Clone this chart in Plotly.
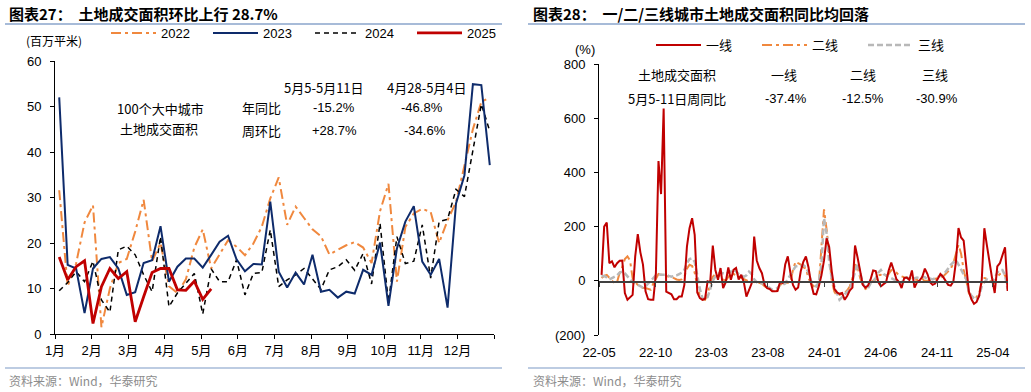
import plotly.graph_objects as go
import pandas as pd

W, H = 1031, 392

# ---------------- Left chart data: weekly land transaction area (百万平米) ----------------
MONTH_LABELS = ["1月", "2月", "3月", "4月", "5月", "6月", "7月", "8月", "9月", "10月", "11月", "12月", ""]
WEEKS = list(range(1, 53))
Y2022 = [31.6, 10.5, 15.5, 24.5, 28.3, 1.5, 10, 15.6, 16.5, 22.5,
         29.5, 16, 20, 10.5, 9, 12, 19, 23, 14.4, 17.5,
         20.6, 19.2, 17.3, 19.9, 23.6, 29.8, 34.4, 24, 28, 25.5,
         23, 21.5, 17.5, 18.5, 19.5, 20.2, 19, 15.6, 27, 33,
         11.5, 23.5, 26.5, 27.5, 26.8, 20, 25, 29, 37, 45,
         51, 52]
Y2023 = [52, 15.2, 14.4, 4.6, 14.4, 16.5, 16.9, 14.4, 8.6, 9.2,
         15.6, 16.2, 23.7, 11.5, 14.8, 16.6, 16.6, 14.6, 17.4, 20.3,
         21.6, 16.4, 13.8, 15.4, 15.3, 29.1, 13.7, 10.2, 13.5, 10.9,
         17.4, 9.3, 9.7, 8.0, 9.3, 8.9, 14.1, 13.0, 20.1, 6.2,
         18.8, 24.7, 28.1, 15.9, 13.0, 16.5, 5.8, 28.7, 34.9, 54.9,
         54.7, 37.1]
Y2024 = [9.5, 11.3, 13.7, 11.5, 16, 7.5, 4.8, 18.5, 19.3, 17.4,
         13, 9.3, 21.4, 6, 9, 11.1, 13.3, 4.4, 14.3, 11.5,
         11.5, 16.3, 8.6, 13.3, 13.5, 22.9, 10.4, 11.9, 13, 14.4,
         12, 9.8, 14.1, 14.8, 16.3, 14, 17.7, 11, 24.3, 7,
         21.4, 15.5, 16, 24, 12.3, 24.7, 25.2, 31.8, 30.2, 40,
         50.5, 44.6]
Y2025 = [16.9, 11.9, 14.8, 16.1, 2.3, 10.4, 14.4, 12.2, 13.7, 2.7,
         8.2, 13.5, 14.4, 14.4, 9.7, 9.6, 11.6, 7.6, 9.9]

# ---------------- Right chart data: weekly YoY by city tier (%) ----------------
DATES = pd.date_range(end="2025-05-11", periods=158, freq="7D")
TIER1 = [22, 200, 215, 65, 72, 50, 65, 74, 75, -45,
         -70, -61, -52, 90, 172, 105, 60, -39, -68, -70,
         -70, 28, 442, 320, 636, -40, -45, -50, -68, -68,
         -58, -58, -15, 126, 194, 231, 170, -43, -64, -70,
         -66, -2, -5, 130, 40, 4, 47, -27, -5, 49,
         4, 40, 47, 5, 22, -5, -58, -33, -10, 163,
         75, 47, 28, -15, -27, -30, -39, -39, -38, -5,
         -8, 60, 90, 30, -15, -33, -25, 35, 70, 90,
         50, -10, -48, -50, -20, 20, 75, 157, 125, 35,
         -30, -43, -48, -45, -70, -55, -35, -25, 130, 85,
         30, -15, -25, -18, 5, 38, 36, -5, -20, -12,
         -5, 38, 67, 38, 6, -5, -27, 10, 12, 3,
         38, -25, -5, 2, 15, 45, 25, -5, -15, -10,
         5, 25, 15, -2, -15, -18, -3, 70, 195, 160,
         148, 55, -39, -68, -85, -78, -55, 4, 194, 130,
         60, 8, -45, 53, 65, 96, 124, -37.4]
TIER2 = [10, 18, 22, 10, 0, -8, -5, 30, 50, 80,
         90, 75, 10, -5, -15, -20, -27, -27, -30, -33,
         -10, 10, 25, 22, 22, 18, 16, 12, 10, 5,
         3, 5, 15, 45, 59, 55, 30, -20, -55, -68,
         -70, -50, -10, 15, 25, 25, 15, 5, 0, 15,
         28, 25, 20, 15, 12, 8, 0, -3, -3, -5,
         -5, -8, -10, -20, -25, -33, -38, -43, -35, -15,
         -10, -8, -5, -5, 40, 71, 65, 60, 50, 45,
         10, -10, -20, -27, -15, 110, 264, 190, 80, 0,
         -40, -55, -52, -48, -45, -35, -20, 10, 60, 50,
         10, -15, -30, -25, -5, 0, 5, 20, 22, 20,
         18, 25, 40, 35, 30, 20, 15, 13, 12, 10,
         8, 5, 3, 5, 8, -2, 0, 3, 5, 8,
         10, 12, 15, 25, 35, 45, 65, 100, 133, 100,
         40, 0, -45, -60, -68, -60, -45, -5, 10, 8,
         0, -3, -8, 15, 25, 28, 20, -12.5]
TIER3 = [16, 18, 12, 5, 10, 15, 20, 30, 34, 28,
         15, 5, -5, -10, -15, -20, -25, -20, -10, 0,
         10, 20, 25, 22, 22, 22, 18, 15, 18, 20,
         25, 30, 40, 65, 80, 83, 70, 20, -30, -64,
         -70, -60, -30, 0, 16, 25, 30, 28, 25, 30,
         35, 40, 35, 25, 20, 15, 20, 34, 25, 5,
         -5, -10, -8, -12, -20, -28, -33, -30, -27, -15,
         -15, -10, 5, 20, 35, 53, 55, 55, 58, 50,
         30, 0, -15, -21, -5, 60, 231, 175, 70, 10,
         -20, -45, -70, -60, -50, -40, -30, 0, 30, 65,
         30, -10, -25, -27, -10, 0, 10, 30, 40, 25,
         20, 15, 10, 5, 0, -5, -10, 10, 12, 5,
         8, 10, 12, 10, 15, 13, 5, 8, 5, 10,
         15, 18, 20, 35, 45, 59, 70, 77, 60, 40,
         25, 5, -40, -55, -64, -70, -55, -20, -5, 5,
         0, -5, 10, 30, 40, 40, 20, -30.9]
RIGHT_TICKS = ["2022-05-01", "2022-10-01", "2023-03-01", "2023-08-01",
               "2024-01-01", "2024-06-01", "2024-11-01", "2025-04-01"]
RIGHT_TICKTEXT = ["22-05", "22-10", "23-03", "23-08", "24-01", "24-06", "24-11", "25-04"]
RIGHT_YTICKS = [-200, 0, 200, 400, 600, 800]
RIGHT_YTEXT = ["(200)", "0", "200", "400", "600", "800"]

FONT = "Liberation Sans, Arial, Noto Sans CJK SC, sans-serif"
CJK = "Noto Sans CJK SC, Liberation Sans, sans-serif"

def px(x):
    return x / W

def py(y):
    return (H - y) / H

xpos = [w - 0.5 for w in WEEKS]
month_ticks = [m * 52 / 12 for m in range(13)]

fig = go.Figure()
fig.add_trace(go.Scatter(x=xpos, y=Y2022, name="2022", mode="lines", legendrank=1,
                         line=dict(color="#F0883E", width=2, dash="10px,4px,3px,4px")))
fig.add_trace(go.Scatter(x=xpos, y=Y2024, name="2024", mode="lines", legendrank=3,
                         line=dict(color="#000000", width=1.5, dash="5px,4px")))
fig.add_trace(go.Scatter(x=xpos, y=Y2023, name="2023", mode="lines", legendrank=2,
                         line=dict(color="#0E2B6B", width=2)))
fig.add_trace(go.Scatter(x=xpos[:len(Y2025)], y=Y2025, name="2025", mode="lines", legendrank=4,
                         line=dict(color="#C00000", width=2.8)))

fig.add_trace(go.Scatter(x=DATES, y=TIER2, name="二线", mode="lines", legendrank=2, legend="legend2",
                         xaxis="x2", yaxis="y2",
                         line=dict(color="#F0883E", width=2, dash="10px,4px,3px,4px")))
fig.add_trace(go.Scatter(x=DATES, y=TIER3, name="三线", mode="lines", legendrank=3, legend="legend2",
                         xaxis="x2", yaxis="y2",
                         line=dict(color="#B8B8B8", width=2.5, dash="6px,3px")))
fig.add_trace(go.Scatter(x=DATES, y=TIER1, name="一线", mode="lines", legendrank=1, legend="legend2",
                         xaxis="x2", yaxis="y2",
                         line=dict(color="#C00000", width=2)))
# helper trace for the zero-line axis
fig.add_trace(go.Scatter(x=[DATES[0]], y=[None], xaxis="x3", yaxis="y2", showlegend=False,
                         hoverinfo="skip", mode="lines"))

axis_font = dict(family=FONT, size=13, color="#000000")

fig.update_layout(
    width=W, height=H,
    margin=dict(l=0, r=0, t=0, b=0, autoexpand=False),
    paper_bgcolor="white", plot_bgcolor="white",
    font=dict(family=FONT, size=13, color="#000000"),
    hovermode=False,
    xaxis=dict(domain=[px(55), px(494)], range=[0, 52], tickvals=month_ticks, ticktext=MONTH_LABELS,
               showgrid=False, zeroline=False, showline=True, linecolor="#000000", linewidth=1,
               ticks="outside", ticklen=4, tickcolor="#000000", tickfont=axis_font, anchor="y",
               automargin=False),
    yaxis=dict(domain=[py(334), py(61)], range=[0, 60], tickvals=[0, 10, 20, 30, 40, 50, 60],
               showgrid=False, zeroline=False, showline=True, linecolor="#000000", linewidth=1,
               ticks="outside", ticklen=4, tickcolor="#000000", tickfont=axis_font, anchor="x",
               ticklabelstandoff=6, automargin=False),
    xaxis2=dict(domain=[px(599), px(1008)], range=["2022-05-01", "2025-05-12"], type="date",
                tickvals=RIGHT_TICKS, ticktext=RIGHT_TICKTEXT,
                showgrid=False, zeroline=False, showline=False, ticks="", tickfont=axis_font,
                anchor="y2", automargin=False, ticklabelstandoff=8),
    xaxis3=dict(overlaying="x2", anchor="free", position=py(281), range=["2022-05-01", "2025-05-12"],
                type="date", tickvals=RIGHT_TICKS, showticklabels=False, showgrid=False,
                zeroline=False, showline=True, linecolor="#404040", linewidth=1.5,
                ticks="outside", ticklen=4, tickcolor="#404040", automargin=False),
    yaxis2=dict(domain=[py(335), py(64)], range=[-200, 800], tickvals=RIGHT_YTICKS, ticktext=RIGHT_YTEXT,
                showgrid=False, zeroline=False, showline=True, linecolor="#000000", linewidth=1,
                ticks="outside", ticklen=4, tickcolor="#000000", tickfont=axis_font, anchor="x2",
                ticklabelstandoff=6, automargin=False),
    legend=dict(orientation="h", x=px(106), y=py(33), xanchor="left", yanchor="middle",
                font=dict(family=FONT, size=13), entrywidth=42, entrywidthmode="pixels",
                bgcolor="rgba(0,0,0,0)", traceorder="normal", itemwidth=45),
    legend2=dict(orientation="h", x=px(651), y=py(45), xanchor="left", yanchor="middle",
                 font=dict(family=CJK, size=13), entrywidth=46, entrywidthmode="pixels",
                 bgcolor="rgba(0,0,0,0)", traceorder="normal", itemwidth=45),
    showlegend=True,
)

ann = []

def add_text(x, y, text, size=13, anchor="center", color="#000000", family=FONT):
    ann.append(dict(x=px(x), y=py(y), xref="paper", yref="paper", text=text, showarrow=False,
                    xanchor=anchor, yanchor="middle", font=dict(family=family, size=size, color=color)))

# titles
add_text(7, 14, "<b>图表27：  土地成交面积环比上行 28.7%</b>", size=15, anchor="left", family=CJK)
add_text(531, 14, "<b>图表28：  一/二/三线城市土地成交面积同比均回落</b>", size=15, anchor="left", family=CJK)
# footers
add_text(7, 380, "资料来源：Wind，华泰研究", size=12, anchor="left", color="#8C8C8C", family=CJK)
add_text(531, 380, "资料来源：Wind，华泰研究", size=12, anchor="left", color="#8C8C8C", family=CJK)
# units
add_text(54, 40, "(百万平米)", size=12, family=CJK)
add_text(585, 50, "(%)", size=13)

# left chart notes
add_text(160, 109, "100个大中城市", size=13, family=CJK)
add_text(159, 128, "土地成交面积", size=13, family=CJK)
add_text(324, 87, "5月5-5月11日", size=13, family=CJK)
add_text(427, 87, "4月28-5月4日", size=13, family=CJK)
add_text(261, 107, "年同比", size=13, family=CJK)
add_text(261, 130, "周环比", size=13, family=CJK)
add_text(334, 107, "-15.2%", size=13)
add_text(422, 107, "-46.8%", size=13)
add_text(334, 130, "+28.7%", size=13)
add_text(425, 130, "-34.6%", size=13)

# right chart notes
add_text(677, 74, "土地成交面积", size=13, family=CJK)
add_text(784, 74, "一线", size=13, family=CJK)
add_text(863, 74, "二线", size=13, family=CJK)
add_text(935, 74, "三线", size=13, family=CJK)
add_text(677, 99, "5月5-11日周同比", size=13, family=CJK)
add_text(786, 99, "-37.4%", size=13)
add_text(863, 99, "-12.5%", size=13)
add_text(937, 99, "-30.9%", size=13)

fig.update_layout(annotations=ann)

LINE_COLOR = "#A7BBD8"
shapes = []
for x0, x1 in [(5, 502), (528, 1025)]:
    shapes.append(dict(type="line", xref="paper", yref="paper", x0=px(x0), x1=px(x1), y0=py(24), y1=py(24),
                       line=dict(color=LINE_COLOR, width=2)))
    shapes.append(dict(type="line", xref="paper", yref="paper", x0=px(x0), x1=px(x1), y0=py(368), y1=py(368),
                       line=dict(color=LINE_COLOR, width=1.5)))
fig.update_layout(shapes=shapes)

fig.write_html("out.html", config={"displayModeBar": False, "staticPlot": True},
               post_script="document.body.style.margin='0px';document.body.style.overflow='hidden';")
